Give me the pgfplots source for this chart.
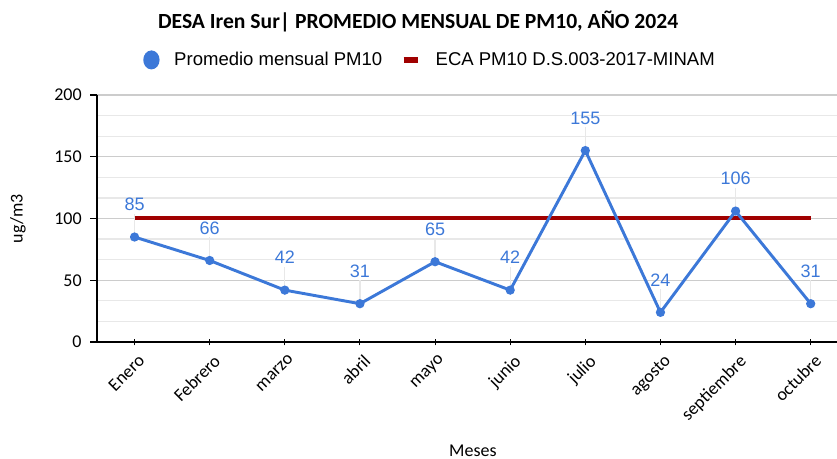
\documentclass[border=0pt]{standalone}
\usepackage{fontspec}
\setmainfont{Carlito}
\newfontfamily\arialf{Liberation Sans}
\usepackage{pgfplots}
\pgfplotsset{compat=1.18}

\definecolor{serieazul}{RGB}{60,120,216}
\definecolor{rojoeca}{RGB}{160,0,0}
\definecolor{gridmaj}{RGB}{204,204,204}
\definecolor{gridmin}{RGB}{232,232,232}

\begin{document}
\begin{tikzpicture}
\path[use as bounding box] (-72.75pt,-87.75pt) rectangle (555pt,256.5pt);
\begin{axis}[
    at={(0,0)}, anchor=south west,
    scale only axis,
    width=555pt, height=185.25pt,
    xmin=-0.5, xmax=9.35,
    ymin=0, ymax=200,
    axis x line=bottom, axis y line=left,
    axis line style={-, black, line width=0.9pt},
    xtick={0,...,9},
    xticklabels={Enero,Febrero,marzo,abril,mayo,junio,julio,agosto,septiembre,octubre},
    x tick label style={rotate=45, anchor=north east, inner sep=1pt, yshift=-3pt},
    y tick label style={xshift=-3pt},
    ytick={0,50,...,200},
    minor y tick num=2,
    minor tick length=0pt,
    major tick length=5pt,
    tick align=outside,
    tick style={black, line width=0.8pt},
    x tick style={yshift=2.5pt},
    ymajorgrids, yminorgrids,
    major grid style={gridmaj, line width=0.9pt},
    minor grid style={gridmin, line width=0.9pt},
    /pgf/number format/assume math mode=true,
    tick label style={font=\fontsize{13.5}{16}\selectfont},
    every axis title shift=0pt,
    title={\bfseries DESA Iren Sur| PROMEDIO MENSUAL DE PM10, AÑO 2024},
    title style={at={(0.434,1.296)}, anchor=center, font=\fontsize{16.2}{19}\selectfont},
    xlabel={Meses},
    xlabel style={at={(axis description cs:0.508,-0.441)}, anchor=center, font=\fontsize{13.5}{16}\selectfont},
    ylabel={ug/m3},
    ylabel style={at={(axis description cs:-0.107,0.5)}, anchor=center, font=\fontsize{13.5}{16}\selectfont},
    legend columns=2,
    reverse legend,
    legend style={at={(0.4505,1.142)}, anchor=center, draw=none, fill=none,
        font=\arialf\fontsize{13.9}{16}\selectfont,
        /tikz/every odd column/.append style={column sep=9pt},
        /tikz/every even column/.append style={column sep=12pt}},
    legend cell align={left},
]

% lineas guia de las etiquetas
\addplot[draw=none, mark=none, forget plot,
    error bars/.cd, y dir=plus, y fixed=19, error mark=none,
    error bar style={draw=gridmin, line width=1pt}]
    coordinates {
        (0,85) (1,66) (2,42) (3,31) (4,65) (5,42) (6,155) (7,24) (8,106) (9,31)
    };

\addplot[rojoeca, line width=3pt, mark=none,
    legend image code/.code={\draw[rojoeca, line width=4pt] (0pt,0pt) -- (11pt,0pt);}]
    coordinates {
        (0,100) (9,100)
    };
\addlegendentry{ECA PM10 D.S.003-2017-MINAM}

\addplot[serieazul, line width=2.2pt, mark=*, mark size=2.3pt,
    nodes near coords,
    nodes near coords style={font=\arialf\fontsize{13.5}{16}\selectfont, color=serieazul,
        anchor=south, inner sep=0pt, yshift=18.5pt},
    legend image code/.code={\fill[serieazul] (5pt,0pt) ellipse (5pt and 6pt);}]
    coordinates {
        (0,85) (1,66) (2,42) (3,31) (4,65) (5,42) (6,155) (7,24) (8,106) (9,31)
    };
\addlegendentry{Promedio mensual PM10}

\end{axis}
\end{tikzpicture}
\end{document}
